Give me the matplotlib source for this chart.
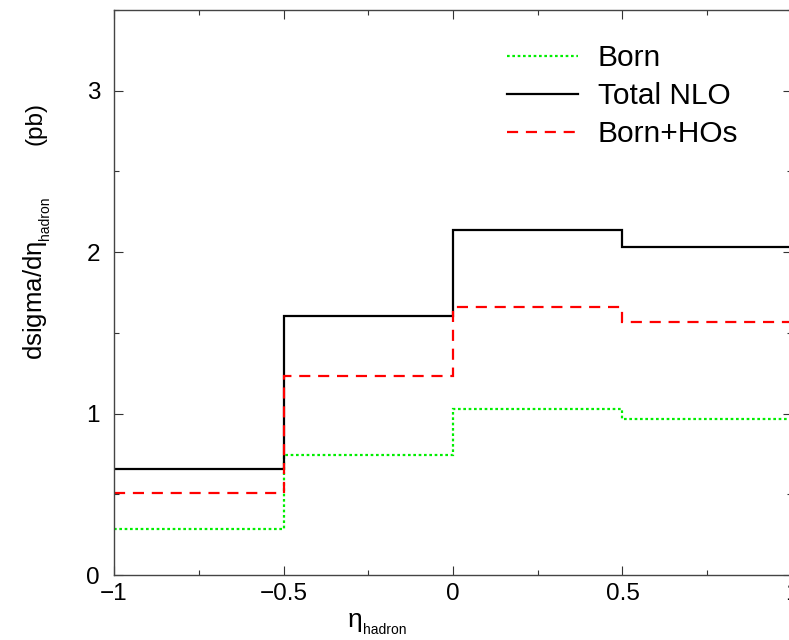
import matplotlib
matplotlib.use("Agg")
import matplotlib.pyplot as plt
from matplotlib.ticker import MultipleLocator
import numpy as np

plt.rcParams['font.family'] = ['Liberation Sans', 'DejaVu Sans']
plt.rcParams['mathtext.fontset'] = 'custom'
plt.rcParams['mathtext.rm'] = 'Liberation Sans'
plt.rcParams['mathtext.it'] = 'Liberation Sans'

bin_edges = [-1.0, -0.5, 0.0, 0.5, 1.0]
born = [0.287, 0.745, 1.028, 0.965]
total_nlo = [0.659, 1.605, 2.139, 2.030]
born_hos = [0.506, 1.235, 1.660, 1.566]

x_ticks = [-1, -0.5, 0, 0.5, 1]
x_ticklabels = ['\u22121', '\u22120.5', '0', '0.5', '1']
y_ticks = [0, 1, 2, 3]

W, H = 789, 640
fig = plt.figure(figsize=(W / 100, H / 100), dpi=100)
ax = fig.add_axes([114 / W, (H - 575) / H, 678 / W, 565 / H])

ax.stairs(born, bin_edges, baseline=None, color='#00ee00', lw=1.6,
          linestyle=(0, (1.2, 1.2)), label='Born')
ax.stairs(total_nlo, bin_edges, baseline=None, color='black', lw=1.6,
          linestyle='-', label='Total NLO')
ax.stairs(born_hos, bin_edges, baseline=None, color='#ff0000', lw=1.6,
          linestyle=(0, (5, 3.5)), label='Born+HOs')

ax.set_xlim(-1, 1)
ax.set_ylim(0, 3.5)
ax.set_xticks(x_ticks)
ax.set_xticklabels(x_ticklabels)
ax.set_yticks(y_ticks)
ax.xaxis.set_minor_locator(MultipleLocator(0.25))
ax.yaxis.set_minor_locator(MultipleLocator(0.5))
ax.tick_params(which='both', direction='in', top=True, right=True,
               labelsize=17.5, width=0.8, color='#333333')
ax.tick_params(which='major', length=6.5)
ax.tick_params(which='minor', length=3.5)
ax.tick_params(axis='x', which='major', pad=6)
ax.tick_params(axis='y', which='major', pad=10)
for s in ax.spines.values():
    s.set_linewidth(1.0)
    s.set_color('#444444')

leg = ax.legend(loc='upper left', bbox_to_anchor=(507 / W, (H - 44) / H),
                bbox_transform=fig.transFigure, frameon=False, fontsize=21.5,
                handlelength=2.37, handletextpad=0.67, borderpad=0,
                borderaxespad=0, labelspacing=0.34)

# x label: eta with small subscript
fig.text(347 / W, (H - 627) / H, r'$\eta$', fontsize=19,
         ha='left', va='baseline')
fig.text(363 / W, (H - 634) / H, 'hadron', fontsize=10,
         ha='left', va='baseline')

# y label pieces
fig.text(42 / W, (H - 241) / H, r'dsigma/d$\eta$', fontsize=18.5,
         rotation=90, ha='right', va='baseline', rotation_mode='anchor')
fig.text(49 / W, (H - 240) / H, 'hadron', fontsize=10,
         rotation=90, ha='left', va='baseline', rotation_mode='anchor')
fig.text(42 / W, (H - 145) / H, '(pb)', fontsize=17.5,
         rotation=90, ha='left', va='baseline', rotation_mode='anchor')

fig.savefig('out.png', dpi=100)
